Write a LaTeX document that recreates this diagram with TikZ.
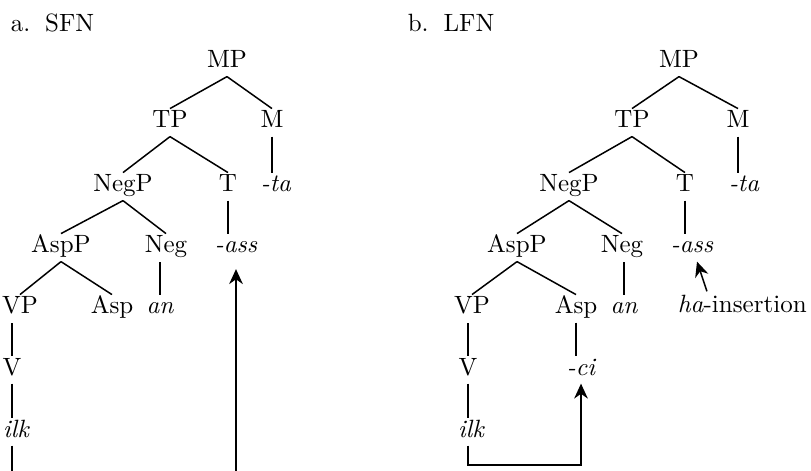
\documentclass[tikz,border=0pt]{standalone}
\usetikzlibrary{arrows.meta}

\begin{document}
\begin{tikzpicture}[x=0.4pt,y=-0.4pt,line width=0.6pt,
    cat/.style={anchor=base,inner sep=1pt,text height=1.5ex,text depth=.5ex},
    wd/.style={cat,font=\itshape},
    arr/.style={-{Stealth[length=6pt,width=5.5pt]}}]
        \useasboundingbox (0,0) rectangle (811,471);
        \node[anchor=base west,inner sep=0pt] (la) at (10,32) {a.\hspace{.6em}SFN};
        \node[cat] (aMP) at (227,68) {MP};
        \node[cat] (aTP) at (170,128) {TP};
        \node[cat] (aM) at (272,128) {M};
        \node[cat] (aNegP) at (123,192) {NegP};
        \node[cat] (aT) at (228,192) {T};
        \node[wd] (ata) at (276,192) {-ta};
        \node[cat] (aAspP) at (61,253) {AspP};
        \node[cat] (aNeg) at (166,253) {Neg};
        \node[wd] (aass) at (236,253) {-ass};
        \node[cat] (aVP) at (20,314) {VP};
        \node[cat] (aAsp) at (112,314) {Asp};
        \node[wd] (aan) at (160,314) {an};
        \node[cat] (aV) at (12,375) {V};
        \node[wd] (ailk) at (16,437) {ilk};
        \coordinate (abend) at (0,520);
        \draw (aMP.south)--(aTP.north);
        \draw (aMP.south)--(aM.north);
        \draw (aTP.south)--(aNegP.north);
        \draw (aTP.south)--(aT.north);
        \draw (aNegP.south)--(aAspP.north);
        \draw (aNegP.south)--(aNeg.north);
        \draw (aAspP.south)--(aVP.north);
        \draw (aAspP.south)--(aAsp.north);
        \draw (aM.south)--(aM.south |- ata.north);
        \draw (aT.south)--(aT.south |- aass.north);
        \draw (aan.north)--(aan.north |- aNeg.south);
        \draw (aV.north)--(aV.north |- aVP.south);
        \draw (aV.south)--(aV.south |- ailk.north);
        \draw[arr,shorten >=3pt] (aV.south |- ailk.south)--(aV.south |- abend) -| (aass.south);
        \node[anchor=base west,inner sep=0pt] (lb) at (407,32) {b.\hspace{.6em}LFN};
        \node[cat] (bMP) at (679,68) {MP};
        \node[cat] (bTP) at (632,128) {TP};
        \node[cat] (bM) at (738,128) {M};
        \node[cat] (bNegP) at (569,192) {NegP};
        \node[cat] (bT) at (685,192) {T};
        \node[wd] (bta) at (744,192) {-ta};
        \node[cat] (bAspP) at (517,253) {AspP};
        \node[cat] (bNeg) at (622,253) {Neg};
        \node[wd] (bass) at (692,253) {-ass};
        \node[cat] (bVP) at (472,314) {VP};
        \node[cat] (bAsp) at (576,314) {Asp};
        \node[wd] (ban) at (624,314) {an};
        \node[cat,anchor=base west,inner sep=0pt] (bins) at (677,313) {\textit{ha}-insertion};
        \node[cat] (bV) at (468,375) {V};
        \node[wd] (bci) at (581,375) {-ci};
        \node[wd] (bilk) at (471,437) {ilk};
        \coordinate (bbend) at (0,465);
        \draw (bMP.south)--(bTP.north);
        \draw (bMP.south)--(bM.north);
        \draw (bTP.south)--(bNegP.north);
        \draw (bTP.south)--(bT.north);
        \draw (bNegP.south)--(bAspP.north);
        \draw (bNegP.south)--(bNeg.north);
        \draw (bAspP.south)--(bVP.north);
        \draw (bAspP.south)--(bAsp.north);
        \draw (bM.south)--(bM.south |- bta.north);
        \draw (bT.south)--(bT.south |- bass.north);
        \draw (ban.north)--(ban.north |- bNeg.south);
        \draw (bV.north)--(bV.north |- bVP.south);
        \draw (bV.south)--(bV.south |- bilk.north);
        \draw (bAsp.south)--(bAsp.south |- bci.north);
        \draw[arr] (bV.south |- bilk.south)--(bV.south |- bbend) -| (bci.south);
        \draw[arr,shorten <=2pt] ([xshift=12.6pt]bins.north west)--([xshift=2pt]bass.south);
      \end{tikzpicture}
\end{document}
